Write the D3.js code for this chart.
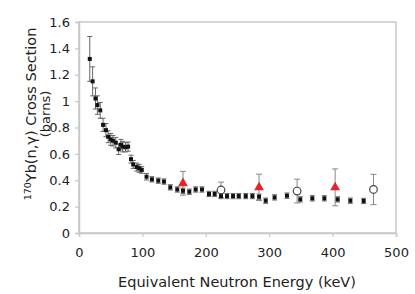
<!DOCTYPE html>
<html><head><meta charset="utf-8">
<script src="https://cdn.jsdelivr.net/npm/d3@7"></script>
<style>body{margin:0;background:#fff}svg{display:block}</style>
</head><body>
<script>
const blackE = [17,21.5,26,29,33.5,38,42.5,46,50,53.5,58,62.5,66,69,73.5,77.5,82,85.5,91,95,99,106.5,115,125,134,144,155,164,174,184,194,205,214,224,233.5,243,252,263,273.5,284,294.5,308.5,328,349,368,387,408,428,449];
const blackV = [1.32,1.15,1.02,0.97,0.93,0.82,0.78,0.73,0.71,0.70,0.685,0.635,0.67,0.655,0.65,0.655,0.56,0.52,0.50,0.49,0.478,0.427,0.407,0.397,0.39,0.346,0.33,0.32,0.313,0.33,0.33,0.296,0.296,0.28,0.28,0.28,0.28,0.28,0.28,0.275,0.245,0.27,0.283,0.255,0.263,0.263,0.255,0.245,0.243];
const blackErr = [0.17,0.11,0.08,0.07,0.06,0.05,0.05,0.045,0.045,0.04,0.04,0.04,0.04,0.04,0.035,0.035,0.03,0.03,0.03,0.03,0.025,0.025,0.02,0.02,0.02,0.02,0.02,0.02,0.02,0.02,0.02,0.02,0.02,0.02,0.02,0.02,0.02,0.02,0.02,0.02,0.02,0.02,0.02,0.02,0.02,0.02,0.02,0.02,0.02];
const redE = [164,284,404];
const redV = [0.377,0.346,0.346];
const redErr = [0.09,0.1,0.14];
const openE = [224,344,464.5];
const openV = [0.326,0.318,0.33];
const openErr = [0.06,0.09,0.115];
const xTicks = [0,100,200,300,400,500];
const yTicks = [0,0.2,0.4,0.6,0.8,1,1.2,1.4,1.6];

const W=415,H=294, m={l:79,r:19,t:22,b:61};
const svg=d3.select("body").append("svg").attr("width",W).attr("height",H);
const x=d3.scaleLinear().domain([0,500]).range([m.l,W-m.r]);
const y=d3.scaleLinear().domain([0,1.6]).range([H-m.b,m.t]);
const font="DejaVu Sans, Verdana, sans-serif";
const axisCol="#c8c8c8", txtCol="#222";

svg.append("rect").attr("x",m.l).attr("y",m.t).attr("width",W-m.r-m.l).attr("height",H-m.b-m.t)
  .attr("fill","none").attr("stroke",axisCol).attr("stroke-width",1.5);

const xa=svg.append("g").attr("transform",`translate(0,${H-m.b})`)
  .call(d3.axisBottom(x).tickValues(xTicks).tickSize(4).tickPadding(11).tickFormat(d3.format("d")));
const ya=svg.append("g").attr("transform",`translate(${m.l},0)`)
  .call(d3.axisLeft(y).tickValues(yTicks).tickSize(4).tickPadding(5).tickFormat(d=>String(d)));
[xa,ya].forEach(a=>{a.select(".domain").attr("stroke",axisCol).attr("stroke-width",1.5);
  a.selectAll(".tick line").attr("stroke",axisCol).attr("stroke-width",1.2);
  a.selectAll("text").attr("font-family",font).attr("font-size",13).attr("fill",txtCol);});

function errbars(E,V,Err,cap,col){
  const g=svg.append("g").attr("stroke",col).attr("stroke-width",1);
  E.forEach((e,i)=>{
    const cx=x(e), y1=y(V[i]+Err[i]), y2=y(V[i]-Err[i]);
    g.append("line").attr("x1",cx).attr("x2",cx).attr("y1",y1).attr("y2",y2);
    g.append("line").attr("x1",cx-cap).attr("x2",cx+cap).attr("y1",y1).attr("y2",y1);
    g.append("line").attr("x1",cx-cap).attr("x2",cx+cap).attr("y1",y2).attr("y2",y2);
  });
}
errbars(blackE,blackV,blackErr,2.5,"#666");
errbars(redE,redV,redErr,3,"#888");
errbars(openE,openV,openErr,3,"#888");

svg.append("g").selectAll("rect").data(blackE).join("rect")
  .attr("x",d=>x(d)-2).attr("y",(d,i)=>y(blackV[i])-2).attr("width",4).attr("height",4).attr("fill","#111");

svg.append("g").selectAll("path").data(redE).join("path")
  .attr("transform",(d,i)=>`translate(${x(d)},${y(redV[i])})`)
  .attr("d",d3.symbol(d3.symbolTriangle,42)).attr("fill","#e8212b");

svg.append("g").selectAll("circle").data(openE).join("circle")
  .attr("cx",d=>x(d)).attr("cy",(d,i)=>y(openV[i])).attr("r",3.8)
  .attr("fill","#fff").attr("stroke","#444").attr("stroke-width",1.2);

svg.append("text").attr("x",237).attr("y",287).attr("text-anchor","middle")
  .attr("font-family",font).attr("font-size",14.5).attr("fill",txtCol).text("Equivalent Neutron Energy (keV)");

const yt=svg.append("text").attr("transform","translate(36,114) rotate(-90)").attr("text-anchor","middle")
  .attr("font-family",font).attr("font-size",14.5).attr("fill",txtCol);
yt.append("tspan").attr("font-size",9.5).attr("dy",-5).text("170");
yt.append("tspan").attr("dy",5).text("Yb(n,γ) Cross Section");
svg.append("text").attr("transform","translate(50,114) rotate(-90)").attr("text-anchor","middle")
  .attr("font-family",font).attr("font-size",13).attr("fill",txtCol).text("(barns)");
</script>
</body></html>
